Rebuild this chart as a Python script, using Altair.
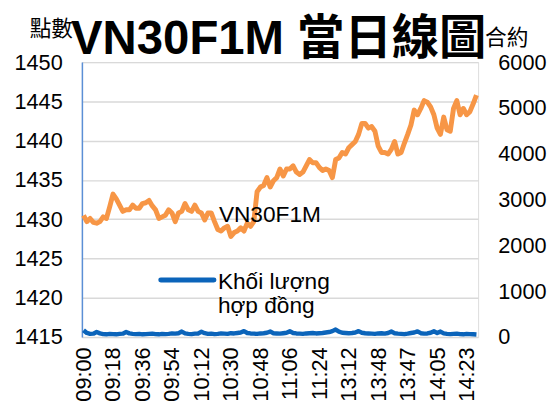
import altair as alt
import pandas as pd

# Price (points) sampled every 2 minutes
price = [1430.5, 1429.7, 1430.1, 1429.6, 1429.5, 1429.7, 1430.3, 1430.1, 1431.6, 1433.2,
         1432.6, 1431.8, 1431.0, 1431.2, 1431.2, 1431.8, 1431.4, 1431.4, 1432.0, 1432.1,
         1432.4, 1431.7, 1431.2, 1430.1, 1430.3, 1430.5, 1431.2, 1430.8, 1429.7, 1430.8,
         1431.0, 1432.0, 1431.2, 1431.0, 1431.8, 1431.0, 1430.8, 1429.9, 1430.8, 1430.8,
         1429.7, 1428.7, 1428.5, 1428.9, 1429.1, 1427.8, 1428.3, 1428.5, 1428.9, 1428.5,
         1429.5, 1429.1, 1429.7, 1433.5, 1434.1, 1434.3, 1435.3, 1434.1, 1434.9, 1435.3,
         1436.4, 1435.5, 1436.4, 1436.4, 1436.8, 1436.0, 1435.7, 1436.0, 1436.8, 1437.6,
         1437.2, 1437.2, 1436.6, 1436.2, 1436.4, 1436.2, 1435.3, 1437.6, 1437.8, 1438.5,
         1438.3, 1439.1, 1439.5, 1439.9, 1440.8, 1442.2, 1442.2, 1441.6, 1441.8, 1441.2,
         1439.3, 1438.5, 1438.5, 1438.3, 1438.9, 1439.9, 1438.3, 1438.5, 1439.7, 1440.8,
         1442.0, 1443.9, 1443.3, 1444.1, 1445.1, 1444.9, 1444.3, 1443.3, 1441.6, 1440.8,
         1443.0, 1441.4, 1441.2, 1444.1, 1445.1, 1443.3, 1444.1, 1443.3, 1443.7, 1444.7,
         1445.8]

volume = [150, 90, 70, 75, 110, 80, 65, 60, 70, 65, 60, 70, 75, 110, 80, 70, 65, 70, 60, 65,
          70, 75, 65, 60, 70, 65, 70, 80, 75, 85, 120, 80, 70, 65, 75, 80, 115, 85, 70, 75,
          65, 70, 80, 75, 70, 85, 80, 90, 100, 130, 90, 80, 75, 70, 80, 85, 95, 120, 85, 80,
          75, 85, 95, 125, 90, 80, 75, 70, 80, 85, 90, 80, 85, 90, 100, 110, 130, 165, 120, 95,
          90, 85, 90, 100, 130, 95, 85, 80, 75, 70, 80, 85, 75, 90, 120, 85, 75, 70, 65, 75,
          90, 100, 125, 85, 75, 80, 95, 125, 90, 120, 80, 70, 65, 70, 75, 65, 60, 70, 65, 60,
          55]

tick_labels = ["09:00", "09:18", "09:36", "09:54", "10:12", "10:30", "10:48", "11:06",
               "11:24", "13:12", "13:48", "13:47", "14:05", "14:23"]

title_text = "VN30F1M 當日線圖"
left_unit = "點數"
right_unit = "合約"
price_name = "VN30F1M"
volume_name = ["Khối lượng", "hợp đồng"]

step = 2
tick_step = 18
df = pd.DataFrame({"t": [i * step for i in range(len(price))], "price": price, "volume": volume})
tick_vals = [i * tick_step for i in range(len(tick_labels))]
label_expr = "[" + ",".join("'%s'" % s for s in tick_labels) + "][round(datum.value/%d)]" % tick_step

FONT = "Liberation Sans, Arial, Noto Sans CJK TC"
ORANGE = "#F79646"
BLUE = "#0B64BA"

x_enc = alt.X("t:Q", scale=alt.Scale(domain=[-1, 241], nice=False, zero=False),
              axis=alt.Axis(values=tick_vals, labelExpr=label_expr, labelAngle=270,
                            labelFontSize=22, labelFont=FONT, labelColor="#000000",
                            labelPadding=10, ticks=False, domain=False, grid=False,
                            title=None, labelOverlap=False, labelFlush=False))

price_line = alt.Chart(df).mark_line(color=ORANGE, strokeWidth=5, strokeJoin="round").encode(
    x=x_enc,
    y=alt.Y("price:Q", scale=alt.Scale(domain=[1415, 1450], nice=False, zero=False),
            axis=alt.Axis(values=list(range(1415, 1451, 5)), orient="left", title=None,
                          format="d",
                          labelFontSize=22, labelFont=FONT, labelColor="#000000",
                          ticks=False, labelPadding=20, grid=True, gridColor="#D9D9D9",
                          gridWidth=1.5, domain=True, domainColor="#5B8FD6", domainWidth=1.5)),
)

vol_line = alt.Chart(df).mark_line(color=BLUE, strokeWidth=4.5, strokeJoin="round").encode(
    x=x_enc,
    y=alt.Y("volume:Q", scale=alt.Scale(domain=[0, 6000], nice=False),
            axis=alt.Axis(values=list(range(0, 6001, 1000)), orient="right", title=None,
                          format="d",
                          labelFontSize=22, labelFont=FONT, labelColor="#000000",
                          ticks=False, labelPadding=20, grid=False, domain=False)),
)

one = pd.DataFrame({"a": [0]})


def txt(s, x, y, size, weight="normal", align="left"):
    return alt.Chart(one).mark_text(align=align, baseline="alphabetic", fontSize=size,
                                    font=FONT, fontWeight=weight, color="#000000").encode(
        x=alt.value(x), y=alt.value(y), text=alt.value(s))


legend_line = alt.Chart(one).mark_rule(color=BLUE, strokeWidth=5, strokeCap="round").encode(
    x=alt.value(80), x2=alt.value(134), y=alt.value(221))

chart = alt.layer(
    price_line, vol_line,
    txt(title_text, -11, -8, 48, "bold"),
    txt(left_unit, -53, -27, 22),
    txt(right_unit, 409, -17, 22),
    txt(price_name, 139, 162, 23),
    txt(volume_name[0], 138, 230, 23),
    txt(volume_name[1], 138, 255, 23),
    legend_line,
).resolve_scale(y="independent").properties(
    width=402, height=279,
    autosize=alt.AutoSizeParams(type="none"),
    padding={"left": 75, "top": 52, "right": 75, "bottom": 66},
).configure_view(stroke=None).configure(background="white")

chart.save("out.html", embed_options={"renderer": "svg", "actions": False})
